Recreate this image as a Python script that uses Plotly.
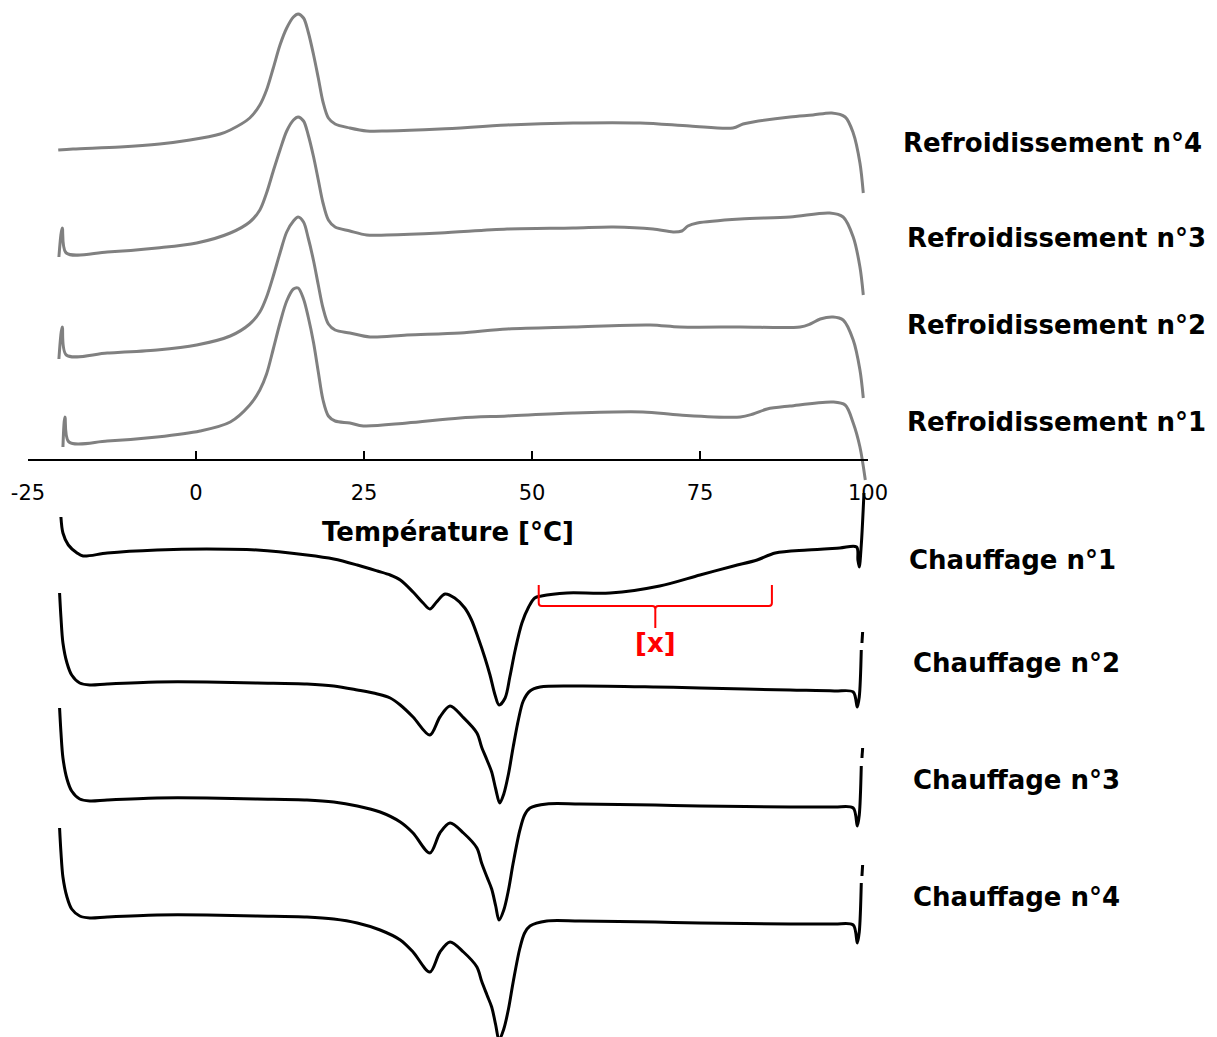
import plotly.graph_objects as go

# ---------------- data (temperature in °C, heat flow in arbitrary units relative to each baseline) -------------
# Cooling runs (grey)
cool4_T = [-20.5, -18.3, -11.3, -5.4, -0.9, 3.6, 5.1, 8.0, 9.5, 10.5, 11.5, 12.5, 13.5, 14.5, 15.2, 16.0, 16.7,
           17.5, 18.2, 18.9, 19.7, 20.7, 22.9, 25.4, 28.4, 36.3, 46.3, 56.1, 66.1, 73.5, 79.9, 81.4, 82.9, 88.4,
           91.8, 94.6, 96.6, 97.8, 98.8, 99.3]
cool4_hf = [0, 1, 3, 6, 10, 16, 20, 32, 45, 60, 82, 105, 122, 133, 136, 132, 118,
            95, 72, 48, 32, 26, 22, 19, 19, 21, 25, 27, 27, 24, 22, 26, 28, 33,
            35, 37, 33, 17, -13, -43]

cool3_T = [-20.4, -19.9, -19.3, -13.2, -5.8, 0.1, 5.1, 8.0, 9.5, 10.5, 11.5, 12.5, 13.5, 14.5, 15.2, 16.0, 16.7,
           17.5, 18.2, 18.9, 19.7, 20.7, 22.9, 25.4, 28.4, 36.3, 46.3, 56.1, 62.1, 68.0, 71.0, 72.3, 73.2, 74.6,
           81.0, 88.4, 94.3, 96.3, 97.8, 98.8, 99.3]
cool3_hf = [-4, 25, 0, 1, 5, 10, 20, 31, 43, 60, 82, 103, 122, 133, 136, 132, 118,
            96, 73, 50, 33, 26, 22, 18, 18, 20, 24, 25, 26, 24, 21, 22, 27, 30,
            34, 36, 40, 36, 16, -14, -42]

cool2_T = [-20.4, -19.9, -19.3, -13.2, -5.8, 0.1, 5.1, 8.0, 9.5, 10.5, 11.5, 12.5, 13.5, 14.5, 15.2, 16.0, 16.7,
           17.5, 18.2, 18.9, 19.7, 20.7, 22.9, 25.9, 31.4, 39.3, 46.3, 56.1, 67.6, 72.0, 81.0, 89.9, 91.4, 92.9,
           94.8, 96.3, 97.8, 98.8, 99.3]
cool2_hf = [-4, 28, 0, 2, 5, 10, 19, 31, 43, 58, 79, 102, 123, 134, 138, 133, 117,
            94, 70, 47, 31, 25, 22, 18, 20, 22, 26, 28, 30, 28, 28, 28, 31, 36,
            38, 35, 15, -15, -43]

cool1_T = [-19.8, -19.5, -18.9, -13.2, -5.8, 0.6, 5.1, 8.0, 9.5, 10.5, 11.5, 12.5, 13.5, 14.5, 15.2, 16.0, 16.7,
           17.5, 18.2, 18.9, 19.7, 20.7, 22.9, 24.9, 31.4, 39.3, 46.3, 56.1, 66.5, 72.0, 81.0, 82.9, 85.0, 88.4,
           94.8, 96.6, 97.8, 98.8, 99.6]
cool1_hf = [-5, 25, 0, 1, 5, 11, 20, 37, 52, 68, 93, 119, 141, 153, 154, 143, 125,
            99, 70, 42, 26, 21, 19, 16, 19, 24, 26, 29, 30, 27, 25, 28, 33, 36,
            40, 37, 19, -5, -38]

# Heating runs (black)
heat1_T = [-20.1, -19.8, -19.0, -17.7, -16.8, -13.2, -5.8, 1.6, 9.1, 16.5, 20.5, 24.0, 27.0, 28.9, 30.4, 32.3,
           33.8, 34.8, 35.8, 37.05, 38.5, 40.0, 41.0, 42.0, 43.0, 43.75, 44.5, 45.1, 46.0, 46.7, 47.5, 48.5,
           49.5, 50.4, 51.4, 55.2, 61.6, 69.0, 75.0, 80.0, 83.5, 86.2, 91.0, 95.8, 98.3, 98.5, 98.7, 99.0, 99.4]
heat1_hf = [33, 17, 5, -3, -6, -3, 0, 1, 0, -5, -9, -15, -21, -25, -30, -42,
            -53, -59, -52, -44, -48, -58, -70, -88, -108, -125, -145, -155, -148, -127, -100, -73,
            -57, -48, -46, -43, -43, -36, -25, -16, -10, -3, 0, 2, 3, -10, -17, 5, 57]

heat2_T = [-20.3, -20.1, -19.8, -19.2, -18.5, -17.3, -15.8, -13.2, -5.8, 1.6, 9.1, 16.5, 20.5, 24.0, 27.0, 28.9,
           30.4, 32.3, 34.8, 36.3, 37.8, 39.7, 41.8, 42.5, 43.3, 44.0, 44.6, 45.2, 45.8, 46.5, 47.2, 48.0,
           48.7, 49.7, 51.2, 57.1, 68.3, 75.0, 88.4, 95.0, 97.8, 98.4, 98.7, 99.0, None, 99.1, 99.2]
heat2_hf = [91, 67, 41, 21, 9, 1, -1, 0, 2, 2, 1, 0, -2, -6, -10, -14,
            -21, -33, -51, -33, -22, -33, -49, -63, -76, -88, -105, -119, -110, -90, -63, -35,
            -17, -7, -3, -2, -3, -4, -6, -7, -8, -23, -13, 34, None, 41, 52]

heat3_T = [-20.3, -20.1, -19.8, -19.2, -18.5, -17.3, -15.8, -13.2, -5.8, 1.6, 9.1, 16.5, 20.5, 24.0, 27.4, 30.4,
           32.3, 34.8, 36.3, 37.8, 39.8, 41.8, 42.5, 43.3, 44.0, 44.6, 45.1, 45.8, 46.5, 47.2, 48.2, 48.9,
           49.7, 52.2, 57.1, 68.3, 75.0, 88.4, 95.0, 97.8, 98.4, 98.7, 99.0, None, 99.1, 99.2]
heat3_hf = [92, 68, 42, 21, 9, 1, -1, 0, 2, 2, 1, 0, -2, -6, -12, -22,
            -33, -53, -33, -23, -33, -48, -63, -77, -89, -106, -120, -110, -90, -63, -30, -15,
            -8, -4, -4, -5, -6, -7, -7, -8, -26, -15, 34, None, 42, 52]

heat4_T = [-20.3, -20.1, -19.8, -19.2, -18.5, -17.3, -15.8, -13.2, -5.8, 1.6, 9.1, 16.5, 20.5, 24.0, 27.4, 30.4,
           32.3, 34.8, 36.3, 37.8, 39.8, 41.8, 42.5, 43.3, 44.0, 44.6, 45.1, 45.8, 46.5, 47.2, 48.2, 48.9,
           49.7, 52.2, 57.1, 68.3, 75.0, 88.4, 95.0, 97.8, 98.4, 98.7, 99.0, None, 99.1, 99.2]
heat4_hf = [89, 65, 40, 20, 8, 1, -1, 0, 2, 2, 1, 0, -2, -6, -13, -23,
            -35, -55, -35, -25, -35, -50, -64, -78, -90, -108, -123, -112, -92, -65, -31, -16,
            -9, -4, -4, -5, -6, -7, -7, -8, -26, -15, 34, None, 41, 52]

run_names = ["Refroidissement n°4", "Refroidissement n°3", "Refroidissement n°2", "Refroidissement n°1",
             "Chauffage n°1", "Chauffage n°2", "Chauffage n°3", "Chauffage n°4"]
run_T = [cool4_T, cool3_T, cool2_T, cool1_T, heat1_T, heat2_T, heat3_T, heat4_T]
run_hf = [cool4_hf, cool3_hf, cool2_hf, cool1_hf, heat1_hf, heat2_hf, heat3_hf, heat4_hf]
run_offset = [-150, -253, -355, -442, -550, -684, -800, -917]   # vertical stacking offsets
run_label_y = [-143, -238, -325, -422, -560, -663, -780, -897]
run_label_x = [1.0393, 1.0440, 1.0440, 1.0440, 1.0464, 1.0512, 1.0512, 1.0512]

tick_vals = [-25, 0, 25, 50, 75, 100]
tick_text = ["-25", "0", "25", "50", "75", "100"]

bracket_T = (51.0, 85.7)
bracket_label = "[x]"

# ---------------- figure ----------------
fig = go.Figure()
for name, T, hf, off in zip(run_names, run_T, run_hf, run_offset):
    is_cool = name.startswith("Refroid")
    y = [None if v is None else v + off for v in hf]
    fig.add_trace(go.Scatter(
        x=T, y=y, mode="lines", name=name,
        line=dict(color="#808080" if is_cool else "#000000", width=3,
                  shape="spline", smoothing=0.9),
        hoverinfo="skip", showlegend=False, cliponaxis=False,
    ))

for name, ly, lx in zip(run_names, run_label_y, run_label_x):
    fig.add_annotation(x=lx, xref="paper", y=ly, yref="y", text=name, showarrow=False,
                       xanchor="left", yanchor="middle",
                       font=dict(family="DejaVu Sans", size=26, color="black", weight="bold"))

# red brace with [x]
t0, t1 = bracket_T
tc = (t0 + t1) / 2
rx = 0.45
yt, ym, yb = -585, -606, -628
path = (f"M {t0},{yt} L {t0},{ym+3} Q {t0},{ym} {t0+rx},{ym} L {tc-rx},{ym} Q {tc},{ym} {tc},{ym-3} L {tc},{yb} "
        f"M {tc},{ym-3} Q {tc},{ym} {tc+rx},{ym} L {t1-rx},{ym} Q {t1},{ym} {t1},{ym+3} L {t1},{yt}")
fig.add_shape(type="path", path=path, xref="x", yref="y", line=dict(color="#FF0000", width=2))
fig.add_annotation(x=tc, y=-643, xref="x", yref="y", text=bracket_label, showarrow=False,
                   font=dict(family="DejaVu Sans", size=26, color="#FF0000", weight="bold"))

# the page body has an 8 px default margin: the plot area is placed to compensate
fig.update_layout(
    width=1217, height=1037,
    margin=dict(l=20, r=357, t=0, b=0),
    paper_bgcolor="white", plot_bgcolor="white",
    showlegend=False,
    xaxis=dict(
        range=[-25, 100], anchor="free", position=1 - 452 / 1037,
        showgrid=False, zeroline=False,
        showline=True, linecolor="black", linewidth=2,
        ticks="inside", ticklen=8, tickwidth=2, tickcolor="black",
        tickvals=tick_vals, ticktext=tick_text, ticklabelstandoff=14,
        tickfont=dict(family="DejaVu Sans", size=21, color="black"),
        title=dict(text="Température [°C]", standoff=18,
                   font=dict(family="DejaVu Sans", size=26, color="black", weight="bold")),
    ),
    yaxis=dict(range=[-1045, -8], visible=False, showgrid=False, zeroline=False),
)

fig.write_html("out.html")
